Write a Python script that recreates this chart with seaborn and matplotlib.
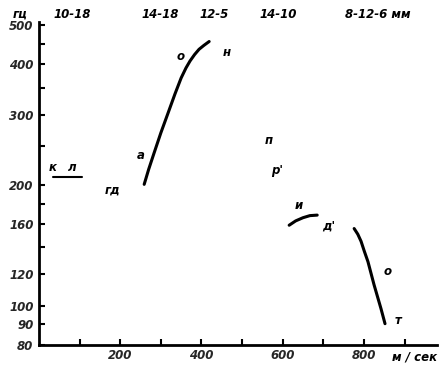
"""
Formant frequency vs. velocity chart (scanned figure recreation).
"""

import matplotlib

matplotlib.use("Agg")
import matplotlib.pyplot as plt
import numpy as np
import pandas as pd
import seaborn as sns
from matplotlib.ticker import FixedLocator, NullFormatter

# curve data (velocity m/s, frequency Hz)
kl_x = [35, 105]
kl_y = [210, 210]

ao_x = [259, 270, 283, 300, 318, 335, 350, 362, 372, 383, 394, 406, 419]
ao_y = [201, 219, 240, 270, 303, 338, 370, 392, 408, 423, 436, 446, 456]

i_x = [616, 632, 650, 667, 685]
i_y = [159, 163, 166, 168, 168.5]

dt_x = [776, 785, 793, 801, 810, 825, 842, 852]
dt_y = [156, 151, 145, 137, 129, 113, 98.6, 90.4]

# point labels
label_text = ["к", "л", "гд", "а", "о", "н", "п", "р'", "и", "д'", "о", "т"]
label_x = [33, 83, 181, 250, 349, 462, 565, 587, 639, 713, 858, 883]
label_y = [221, 221, 194, 237, 419, 427, 259, 218, 178, 158, 122, 92]

# axis ticks
y_major = [80, 90, 100, 120, 160, 200, 300, 400, 500]
y_minor = [140, 180, 250, 350, 450]
x_major = [200, 400, 600, 800]
x_minor = [100, 300, 500, 700, 900]

# header labels (text, x pixel centre)
top_text = ["гц", "10-18", "14-18", "12-5", "14-10", "8-12-6 мм"]
top_px = [20, 72, 160, 214, 278, 378]

sns.set_theme(style="white")
plt.rcParams["font.family"] = ["DejaVu Sans"]
font = dict(style="italic", weight="bold", fontsize=8.5, color="black")

fig = plt.figure(figsize=(4.44, 3.70), dpi=100)
ax = fig.add_axes([39 / 444, 1 - 345 / 370, (437 - 39) / 444, (345 - 22) / 370])

curves = [(kl_x, kl_y, 1.5), (ao_x, ao_y, 2.2), (i_x, i_y, 2.2), (dt_x, dt_y, 2.2)]
for cx, cy, lw in curves:
    df = pd.DataFrame({"v": cx, "f": cy})
    sns.lineplot(data=df, x="v", y="f", ax=ax, color="black", linewidth=lw,
                 sort=False, estimator=None)

ax.set_yscale("log")
ax.set_xlim(0, 980)
ax.set_ylim(80, 510)

for t, lx, ly in zip(label_text, label_x, label_y):
    ax.text(lx, ly, t, ha="center", va="center", **font)

ax.yaxis.set_major_locator(FixedLocator(y_major))
ax.yaxis.set_minor_locator(FixedLocator(y_minor))
ax.yaxis.set_minor_formatter(NullFormatter())
ax.set_yticklabels([str(v) for v in y_major])
ax.xaxis.set_major_locator(FixedLocator(x_major))
ax.xaxis.set_minor_locator(FixedLocator(x_minor))
ax.set_xticklabels([str(v) for v in x_major])

for lab in ax.get_xticklabels() + ax.get_yticklabels():
    lab.set_fontstyle("italic")
    lab.set_fontweight("bold")
    lab.set_fontsize(8.5)

ax.tick_params(which="both", direction="in", length=4, width=1.5, color="black",
               left=True, bottom=True, pad=3)
ax.tick_params(axis="y", pad=4)
ax.set_xlabel("")
ax.set_ylabel("")

for side in ["top", "right"]:
    ax.spines[side].set_visible(False)
for side in ["left", "bottom"]:
    ax.spines[side].set_linewidth(2)
    ax.spines[side].set_color("black")

for t, px in zip(top_text, top_px):
    fig.text(px / 444, 1 - 14 / 370, t, ha="center", va="center", **font)
fig.text(415 / 444, 1 - 357 / 370, "м / сек", ha="center", va="center", **font)

fig.savefig("out.png", dpi=100, facecolor="white")
plt.close(fig)
